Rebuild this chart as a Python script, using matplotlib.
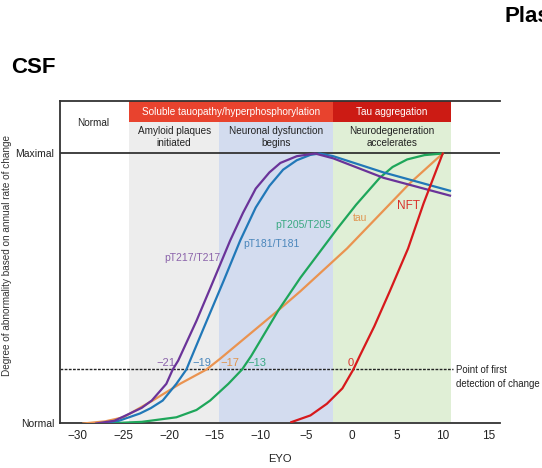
import matplotlib
matplotlib.use("Agg")
import matplotlib.pyplot as plt
from matplotlib.patches import Rectangle

plt.rcParams['font.family'] = ['Liberation Sans Narrow', 'Liberation Sans', 'DejaVu Sans']

# curve points (EYO, degree of abnormality 0=Normal .. 1=Maximal)
pt217_x = [-28.0, -26.0, -24.3, -23.0, -21.9, -20.3, -19.6, -19.0, -17.0, -15.5, -13.3, -11.9, -10.5, -9.0, -7.8, -6.0, -4.0, -2.0, 3.5, 10.8]
pt217_y = [0.0, 0.01, 0.037, 0.058, 0.085, 0.147, 0.20, 0.233, 0.38, 0.50, 0.678, 0.78, 0.87, 0.93, 0.965, 0.99, 1.0, 0.982, 0.91, 0.844]

pt181_x = [-27.6, -25.5, -23.2, -22.0, -20.7, -19.2, -18.1, -17.7, -16.0, -14.0, -12.2, -10.5, -9.0, -7.5, -6.0, -4.5, -3.5, -2.0, 3.5, 10.8]
pt181_y = [0.0, 0.01, 0.037, 0.057, 0.085, 0.147, 0.20, 0.233, 0.37, 0.53, 0.678, 0.80, 0.88, 0.94, 0.975, 0.995, 1.0, 0.99, 0.93, 0.862]

pt205_x = [-27.2, -23.0, -19.2, -17.0, -15.5, -13.5, -12.0, -11.0, -8.0, -5.6, -1.6, 0.5, 3.1, 4.5, 6.1, 8.0, 10.0]
pt205_y = [0.0, 0.006, 0.023, 0.05, 0.085, 0.147, 0.20, 0.25, 0.42, 0.54, 0.72, 0.81, 0.91, 0.95, 0.978, 0.994, 1.0]

tau_x = [-29.4, -27.0, -25.0, -21.8, -18.8, -15.9, -14.4, -8.0, -5.6, -0.5, 6.4, 10.0]
tau_y = [0.0, 0.008, 0.023, 0.085, 0.147, 0.20, 0.24, 0.42, 0.49, 0.648, 0.89, 1.0]

nft_x = [-6.6, -4.5, -2.7, -1.0, 0.2, 0.9, 2.5, 4.2, 6.2, 7.9, 10.0]
nft_y = [0.005, 0.03, 0.073, 0.13, 0.20, 0.25, 0.36, 0.49, 0.648, 0.815, 1.0]

# first-detection years written next to the threshold line
detect_labels = ['\u221221', '\u221219', '\u221217', '\u221213', '0']
detect_x = [-20.4, -16.4, -13.3, -10.4, -0.1]

# stage boundaries (EYO)
stage_edges = [-24.4, -14.5, -2.0, 10.9]
stage_names = ['Amyloid plaques\ninitiated', 'Neuronal dysfunction\nbegins', 'Neurodegeneration\naccelerates']
stage_colors = ['#ededed', '#d3dcef', '#e0efd6']

detect_level = 0.2
xticks = [-30, -25, -20, -15, -10, -5, 0, 5, 10, 15]

fig = plt.figure(figsize=(5.42, 4.68), dpi=100)
ax = fig.add_axes([0.1107, 0.0951, 0.8118, 0.6923])
ax.set_xlim(-31.96, 16.28)
ax.set_ylim(0, 1.2)

hdr = 7.2

# background stages
for i in range(3):
    ax.add_patch(Rectangle((stage_edges[i], 0.006), stage_edges[i + 1] - stage_edges[i], 1.115 - 0.006,
                           facecolor=stage_colors[i], edgecolor='none', zorder=0))
    ax.text((stage_edges[i] + stage_edges[i + 1]) / 2, 1.061, stage_names[i], ha='center', va='center',
            fontsize=hdr, color='#222222', linespacing=1.15)

# red header bands
ax.add_patch(Rectangle((stage_edges[0], 1.115), stage_edges[2] - stage_edges[0], 0.081,
                       facecolor='#e8432e', edgecolor='none', zorder=1))
ax.add_patch(Rectangle((stage_edges[2], 1.115), stage_edges[3] - stage_edges[2], 0.081,
                       facecolor='#cc1b14', edgecolor='none', zorder=1))
ax.text((stage_edges[0] + stage_edges[2]) / 2, 1.155, 'Soluble tauopathy/hyperphosphorylation',
        ha='center', va='center', fontsize=hdr, color='white')
ax.text((stage_edges[2] + stage_edges[3]) / 2, 1.155, 'Tau aggregation',
        ha='center', va='center', fontsize=hdr, color='white')
ax.text(-28.3, 1.113, 'Normal', ha='center', va='center', fontsize=hdr, color='#222222')

# horizontal guide lines
ax.axhline(1.196, color='#333333', lw=1.3, zorder=2, clip_on=False)
ax.axhline(1.0, color='#333333', lw=1.3, zorder=2)
ax.plot([-31.96, 11.1], [detect_level, detect_level], color='#222222', lw=1.0,
        linestyle=(0, (2, 1)), zorder=2)
ax.text(11.5, 0.172, 'Point of first\ndetection of change', ha='left', va='center',
        fontsize=6.9, color='#222222', linespacing=1.4, clip_on=False)

# biomarker curves
ax.plot(tau_x, tau_y, color='#ea9350', lw=1.6, zorder=3)
ax.plot(pt205_x, pt205_y, color='#1ea65a', lw=1.6, zorder=3)
ax.plot(pt181_x, pt181_y, color='#2178b8', lw=1.6, zorder=4)
ax.plot(pt217_x, pt217_y, color='#6a3399', lw=1.6, zorder=4)
ax.plot(nft_x, nft_y, color='#d7191c', lw=1.6, zorder=5)

label_colors = ['#8a62aa', '#4a86bb', '#e0954f', '#3aa982', '#d9302a']
for lab, xx, cc in zip(detect_labels, detect_x, label_colors):
    ax.text(xx, 0.224, lab, ha='center', va='center', fontsize=8, color=cc)

ax.text(-17.5, 0.612, 'pT217/T217', ha='center', va='center', fontsize=7.5, color='#8a62aa')
ax.text(-8.75, 0.665, 'pT181/T181', ha='center', va='center', fontsize=7.5, color='#4a86bb')
ax.text(-5.3, 0.735, 'pT205/T205', ha='center', va='center', fontsize=7.5, color='#3aa982')
ax.text(0.93, 0.761, 'tau', ha='center', va='center', fontsize=7.5, color='#e0954f')
ax.text(6.3, 0.804, 'NFT', ha='center', va='center', fontsize=8.5, color='#d9302a')

# axes styling
for side in ['top', 'right']:
    ax.spines[side].set_visible(False)
ax.spines['left'].set_bounds(0, 1.196)
ax.spines['left'].set_color('#333333')
ax.spines['bottom'].set_color('#333333')
ax.spines['left'].set_linewidth(1.3)
ax.spines['bottom'].set_linewidth(1.3)
ax.set_xticks(xticks)
ax.set_xticklabels([('\u2212' + str(-t)) if t < 0 else str(t) for t in xticks])
ax.set_yticks([0, 1])
ax.set_yticklabels(['Normal', 'Maximal'])
ax.tick_params(length=0, colors='#222222', pad=5)
ax.tick_params(axis='x', labelsize=8.5)
ax.tick_params(axis='y', labelsize=7.5, pad=4)
ax.set_xlabel('EYO', fontsize=8, color='#222222', labelpad=8)

fig.text(7 / 542, 0.453, 'Degree of abnormality based on annual rate of change', rotation=90,
         ha='center', va='center', fontsize=7.2, color='#333333')
fig.text(11 / 542, 0.855, 'CSF', ha='left', va='center', fontsize=16, fontweight='bold',
         family=['Liberation Sans', 'DejaVu Sans'])
fig.text(505 / 542, 0.964, 'Plasma', ha='left', va='center', fontsize=16, fontweight='bold',
         family=['Liberation Sans', 'DejaVu Sans'])

fig.savefig('out.png', dpi=100)
